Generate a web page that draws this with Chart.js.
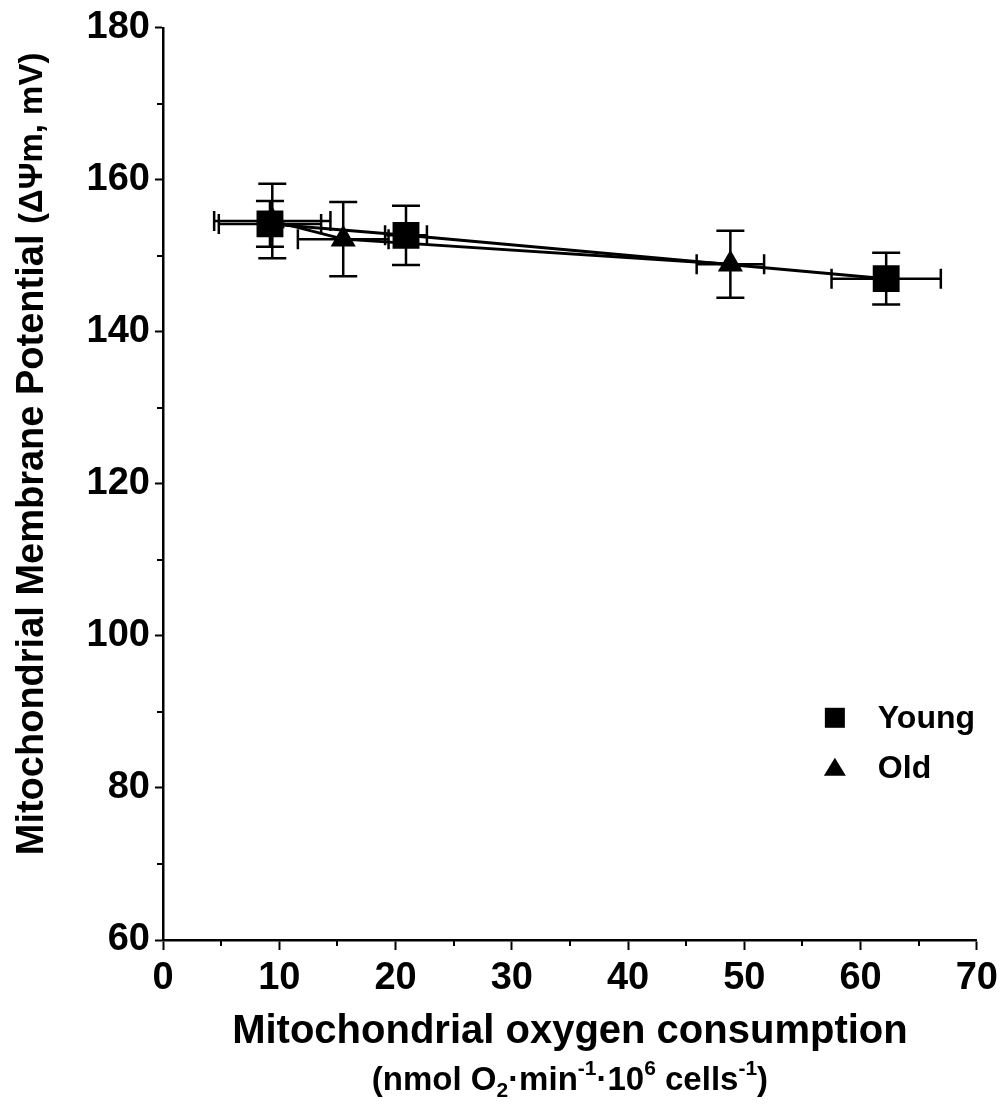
<!DOCTYPE html>
<html>
<head>
<meta charset="utf-8">
<script src="https://cdn.jsdelivr.net/npm/chart.js@4/dist/chart.umd.min.js"></script>
<style>
  html, body { margin: 0; padding: 0; background: #fff; }
  canvas { display: block; }
</style>
</head>
<body>
<canvas id="chart" width="1004" height="1106"></canvas>
<script>
// Mitochondrial membrane potential vs. oxygen consumption, young and old cells (mean ± error)
const seriesNames = ['Young', 'Old'];

const youngX    = [9.2, 20.9, 62.2];
const youngY    = [154.2, 152.7, 147.0];
const youngXErr = [4.4, 1.8, 4.7];
const youngYErr = [3.0, 3.9, 3.4];

const oldX    = [9.4, 15.5, 48.8];
const oldY    = [154.6, 152.2, 148.9];
const oldXErr = [5.0, 3.9, 2.9];
const oldYErr = [4.9, 4.9, 4.4];

const xTickValues = [0, 10, 20, 30, 40, 50, 60, 70];
const yTickValues = [60, 80, 100, 120, 140, 160, 180];
const xMinorTicks = [5, 15, 25, 35, 45, 55, 65];
const yMinorTicks = [70, 90, 110, 130, 150, 170];

const xTitle = 'Mitochondrial oxygen consumption';
// unit line: [text, 0 = normal, -1 = subscript, 1 = superscript]
const xUnits = [
  ['(nmol O', 0], ['2', -1], ['\u00b7min', 0], ['-1', 1],
  ['\u00b710', 0], ['6', 1], [' cells', 0], ['-1', 1], [')', 0]
];
const yTitle = 'Mitochondrial Membrane Potential ';
const yUnits = '(\u0394\u03a8m, mV)';

const FAMILY = '"Liberation Sans", Arial, Helvetica, sans-serif';

function points(xs, ys, xe, ye) {
  return xs.map((v, i) => ({ x: v, y: ys[i], xErr: xe[i], yErr: ye[i] }));
}

// horizontal and vertical error bars with caps
const errorBars = {
  id: 'errorBars',
  beforeDatasetsDraw(chart) {
    const { ctx, scales: { x, y } } = chart;
    ctx.save();
    ctx.strokeStyle = '#000';
    ctx.lineWidth = 2.5;
    chart.data.datasets.forEach(ds => {
      ds.data.forEach(p => {
        const px = x.getPixelForValue(p.x);
        const py = y.getPixelForValue(p.y);
        const xl = x.getPixelForValue(p.x - p.xErr);
        const xr = x.getPixelForValue(p.x + p.xErr);
        const yt = y.getPixelForValue(p.y + p.yErr);
        const yb = y.getPixelForValue(p.y - p.yErr);
        ctx.beginPath();
        ctx.moveTo(xl, py); ctx.lineTo(xr, py);
        ctx.moveTo(xl, py - 10); ctx.lineTo(xl, py + 10);
        ctx.moveTo(xr, py - 10); ctx.lineTo(xr, py + 10);
        ctx.moveTo(px, yt); ctx.lineTo(px, yb);
        ctx.moveTo(px - 14, yt); ctx.lineTo(px + 14, yt);
        ctx.moveTo(px - 14, yb); ctx.lineTo(px + 14, yb);
        ctx.stroke();
      });
    });
    ctx.restore();
  }
};

// short unlabelled ticks between the labelled ones
const minorTicks = {
  id: 'minorTicks',
  afterDraw(chart) {
    const { ctx, scales: { x, y }, chartArea } = chart;
    ctx.save();
    ctx.strokeStyle = '#000';
    ctx.lineWidth = 2;
    ctx.beginPath();
    xMinorTicks.forEach(v => {
      const px = Math.round(x.getPixelForValue(v));
      ctx.moveTo(px, chartArea.bottom); ctx.lineTo(px, chartArea.bottom + 6);
    });
    yMinorTicks.forEach(v => {
      const py = Math.round(y.getPixelForValue(v));
      ctx.moveTo(chartArea.left, py); ctx.lineTo(chartArea.left - 6, py);
    });
    ctx.stroke();
    ctx.restore();
  }
};

// axis titles, including the sub/superscripted unit line
const axisTitles = {
  id: 'axisTitles',
  afterDraw(chart) {
    const { ctx, chartArea } = chart;
    const cx = (chartArea.left + chartArea.right) / 2;
    ctx.save();
    ctx.fillStyle = '#000';
    ctx.textBaseline = 'middle';

    // x title
    ctx.font = 'bold 40px ' + FAMILY;
    ctx.textAlign = 'center';
    ctx.fillText(xTitle, cx, chartArea.bottom + 92);

    // x units
    const base = 'bold 33px ' + FAMILY, small = 'bold 21px ' + FAMILY;
    let total = 0;
    xUnits.forEach(([t, k]) => { ctx.font = k ? small : base; total += ctx.measureText(t).width; });
    let xpos = cx - total / 2;
    const ly = chartArea.bottom + 141;
    ctx.textAlign = 'left';
    xUnits.forEach(([t, k]) => {
      ctx.font = k ? small : base;
      const dy = k === -1 ? 10 : (k === 1 ? -12 : 0);
      ctx.fillText(t, xpos, ly + dy);
      xpos += ctx.measureText(t).width;
    });

    // y title
    ctx.translate(33, (chartArea.top + chartArea.bottom) / 2 - 30);
    ctx.rotate(-Math.PI / 2);
    const f1 = 'bold 38px ' + FAMILY, f2 = 'bold 33px ' + FAMILY;
    ctx.font = f1; const w1 = ctx.measureText(yTitle).width;
    ctx.font = f2; const w2 = ctx.measureText(yUnits).width;
    let s = -(w1 + w2) / 2;
    ctx.font = f1; ctx.fillText(yTitle, s, 0);
    ctx.font = f2; ctx.fillText(yUnits, s + w1, 0);
    ctx.restore();
  }
};

// key with the series markers
const key = {
  id: 'key',
  afterDraw(chart) {
    const { ctx, chartArea } = chart;
    const mx = chartArea.right - 142;
    ctx.save();
    ctx.fillStyle = '#000';
    ctx.font = 'bold 32px ' + FAMILY;
    ctx.textBaseline = 'middle';
    ctx.textAlign = 'left';
    seriesNames.forEach((name, i) => {
      const my = chartArea.top + 690 + i * 50;
      ctx.beginPath();
      if (i === 0) {
        ctx.rect(mx - 10, my - 10, 20, 20);
      } else {
        ctx.moveTo(mx, my - 10);
        ctx.lineTo(mx + 11, my + 8);
        ctx.lineTo(mx - 11, my + 8);
        ctx.closePath();
      }
      ctx.fill();
      ctx.fillText(name, mx + 43, my + 1);
    });
    ctx.restore();
  }
};

const tickFont = { family: FAMILY, size: 38, weight: 'bold' };

new Chart(document.getElementById('chart'), {
  type: 'scatter',
  data: {
    datasets: [
      {
        label: seriesNames[0],
        data: points(youngX, youngY, youngXErr, youngYErr),
        showLine: true,
        borderColor: '#000',
        borderWidth: 3,
        backgroundColor: '#000',
        pointStyle: 'rect',
        pointRadius: 19,
        pointBorderWidth: 0,
        pointBackgroundColor: '#000'
      },
      {
        label: seriesNames[1],
        data: points(oldX, oldY, oldXErr, oldYErr),
        showLine: true,
        borderColor: '#000',
        borderWidth: 3,
        backgroundColor: '#000',
        pointStyle: 'triangle',
        pointRadius: 14.5,
        pointBorderWidth: 0,
        pointBackgroundColor: '#000'
      }
    ]
  },
  options: {
    responsive: false,
    animation: false,
    devicePixelRatio: 1,
    layout: { padding: { top: 26, right: 27, left: 0, bottom: 0 } },
    plugins: { legend: { display: false }, tooltip: { enabled: false } },
    scales: {
      x: {
        type: 'linear',
        min: 0, max: 70,
        afterBuildTicks: s => { s.ticks = xTickValues.map(v => ({ value: v })); },
        afterFit: s => { s.height = 166; },
        border: { display: true, color: '#000', width: 2.5 },
        grid: { display: true, drawOnChartArea: false, drawTicks: true, tickLength: 10, tickWidth: 2, tickColor: '#000' },
        ticks: { color: '#000', font: tickFont, padding: 6, maxRotation: 0 }
      },
      y: {
        type: 'linear',
        min: 60, max: 180,
        afterBuildTicks: s => { s.ticks = yTickValues.map(v => ({ value: v })); },
        afterFit: s => { s.width = 163; },
        border: { display: true, color: '#000', width: 2.5 },
        grid: { display: true, drawOnChartArea: false, drawTicks: true, tickLength: 8, tickWidth: 2, tickColor: '#000' },
        ticks: { color: '#000', font: tickFont, padding: 5 }
      }
    }
  },
  plugins: [errorBars, minorTicks, axisTitles, key]
});
</script>
</body>
</html>
